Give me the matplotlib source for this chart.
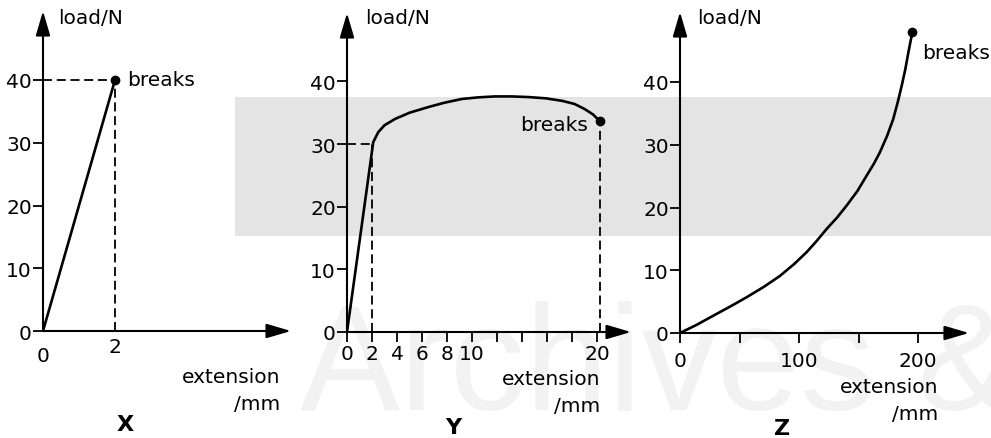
import matplotlib
matplotlib.use('Agg')
import matplotlib.pyplot as plt
import matplotlib.patches as patches
from matplotlib.transforms import ScaledTranslation

plt.rcParams['font.family'] = ['DejaVu Sans']

# ── data ────────────────────────────────────────────────────
x_ext = [0, 2]
x_load = [0, 40]
x_break = (2, 40)

y_ext = [0, 2.1, 2.5, 3.0, 3.84, 5.0, 6.5, 7.8, 9.2, 10.5, 11.8, 13.2, 14.5,
         15.9, 17.2, 18.2, 19.0, 19.7, 20.2]
y_load = [0, 30.3, 31.9, 33.0, 34.0, 35.0, 35.9, 36.6, 37.2, 37.45, 37.6,
          37.6, 37.5, 37.3, 36.9, 36.4, 35.6, 34.7, 33.7]
y_yield = (2, 30)
y_break = (20.2, 33.7)

z_ext = [0, 14, 28, 42, 56, 70, 84, 96, 106.5, 115, 123.3, 132, 140, 149,
         156.9, 163, 168, 174, 179.2, 183, 186.3, 189.3, 191.9, 195.2]
z_load = [0, 1.3, 2.76, 4.2, 5.7, 7.3, 9.1, 11.0, 12.9, 14.7, 16.6, 18.4,
          20.3, 22.6, 25.1, 27.0, 28.8, 31.4, 34.1, 36.8, 39.4, 42.0, 44.7,
          47.9]
z_break = (195.2, 47.9)

load_ticks = [0, 10, 20, 30, 40]
x_ticks, x_labels = [0, 2], ['0', '2']
y_ticks = list(range(0, 21, 2))
y_labels = ['0', '2', '4', '6', '8', '10', '', '', '', '', '20']
z_ticks, z_labels = [0, 50, 100, 150, 200], ['0', '', '100', '', '200']

# ── layout (pixels) ─────────────────────────────────────────
W, H = 991, 439
FS = 14.5
LW_AX = 1.5
LW_CURVE = 1.9
DASH = (0, (5, 2.6))

fig = plt.figure(figsize=(W / 100, H / 100), dpi=100, facecolor='white')

# grey scan band + faint watermark behind everything
fig.patches.append(patches.Rectangle((235 / W, 1 - 237 / H), (W - 235) / W,
                                     (237 - 98) / H, transform=fig.transFigure,
                                     facecolor='#e4e4e4', edgecolor='none',
                                     zorder=-3))
fig.text(300 / W, 1 - 410 / H, 'Archives &', fontsize=108, color='#f2f2f2',
         family='Liberation Sans', va='baseline', ha='left', zorder=-2)


def add_panel(ox, oy, sx, sy, xend, ytop):
    ax = fig.add_axes([ox / W, 1 - oy / H, (xend - ox) / W, (oy - ytop) / H])
    ax.set_xlim(0, (xend - ox) / sx)
    ax.set_ylim(0, (oy - ytop) / sy)
    ax.patch.set_visible(False)
    for s in ax.spines.values():
        s.set_visible(False)
    head = dict(arrowstyle='-|>,head_length=0.75,head_width=0.22', lw=LW_AX,
                color='black', mutation_scale=20, shrinkA=0, shrinkB=0)
    ax.annotate('', xy=(1, 0), xytext=(0, 0), xycoords='axes fraction',
                arrowprops=head)
    ax.annotate('', xy=(0, 1), xytext=(0, 0), xycoords='axes fraction',
                arrowprops=head)
    ax.set_yticks(load_ticks)
    ax.tick_params(axis='y', direction='out', length=7, width=1.3, pad=1,
                   labelsize=FS)
    ax.tick_params(axis='x', direction='out', length=7, width=1.3, pad=2,
                   labelsize=FS)
    return ax


def labels(ax, name, load_dx, ext_right, ext_y, name_x, name_y, dy_mm=27):
    # axis titles placed in pixels
    ox, oy = ax.transAxes.transform((0, 0))
    def at(px, py):
        return fig.transFigure.inverted().transform((px, H - py))
    fig.text(*at(ox + load_dx, 19), 'load/N', fontsize=FS, va='center',
             ha='left')
    fig.text(*at(ext_right, ext_y), 'extension', fontsize=FS, va='center',
             ha='right')
    fig.text(*at(ext_right, ext_y + dy_mm), '/mm', fontsize=FS, va='center',
             ha='right')
    fig.text(*at(name_x, name_y), name, fontsize=FS + 1.5, fontweight='bold',
             va='center', ha='center')


# ── panel X ─────────────────────────────────────────────────
ax = add_panel(43, 332, 36, 6.275, 291, 12)
ax.plot(x_ext, x_load, color='black', lw=LW_CURVE, solid_capstyle='round')
ax.plot([0, x_break[0]], [x_break[1]] * 2, color='black', lw=1.3, ls=DASH)
ax.plot([x_break[0]] * 2, [0, x_break[1]], color='black', lw=1.3, ls=DASH)
ax.plot(*x_break, 'o', color='black', ms=6)
ax.annotate('breaks', xy=x_break, xytext=(12, 0), textcoords='offset pixels',
            fontsize=FS, va='center', ha='left')
ax.set_xticks(x_ticks, x_labels)
ax.tick_params(axis='x', length=0, pad=4)
lab0 = ax.get_xticklabels()[0]
lab0.set_transform(lab0.get_transform()
                   + ScaledTranslation(0, -9 / 100, fig.dpi_scale_trans))
labels(ax, 'X', 15, 280, 378, 125, 425)

# ── panel Y ─────────────────────────────────────────────────
ax = add_panel(347, 333, 12.5, 6.265, 631, 14)
ax.plot(y_ext, y_load, color='black', lw=LW_CURVE, solid_capstyle='round',
        solid_joinstyle='round')
ax.plot([0, y_yield[0]], [y_yield[1]] * 2, color='black', lw=1.3, ls=DASH)
ax.plot([y_yield[0]] * 2, [0, y_yield[1]], color='black', lw=1.3, ls=DASH)
ax.plot([y_break[0]] * 2, [0, y_break[1]], color='black', lw=1.3, ls=DASH)
ax.plot(*y_break, 'o', color='black', ms=6)
ax.annotate('breaks', xy=y_break, xytext=(-12, -4), textcoords='offset pixels',
            fontsize=FS, va='center', ha='right')
ax.set_xticks(y_ticks, y_labels)
labels(ax, 'Y', 18, 600, 380, 453, 428)

# ── panel Z ─────────────────────────────────────────────────
ax = add_panel(680, 334, 1.19, 6.275, 969, 13)
ax.plot(z_ext, z_load, color='black', lw=LW_CURVE, solid_capstyle='round',
        solid_joinstyle='round')
ax.plot(*z_break, 'o', color='black', ms=6)
ax.annotate('breaks', xy=z_break, xytext=(10, -20), textcoords='offset pixels',
            fontsize=FS, va='center', ha='left')
ax.set_xticks(z_ticks, z_labels)
ax.tick_params(axis='x', pad=6)
labels(ax, 'Z', 17, 938, 388, 782, 429)

fig.savefig('out.png', dpi=100, facecolor='white')
